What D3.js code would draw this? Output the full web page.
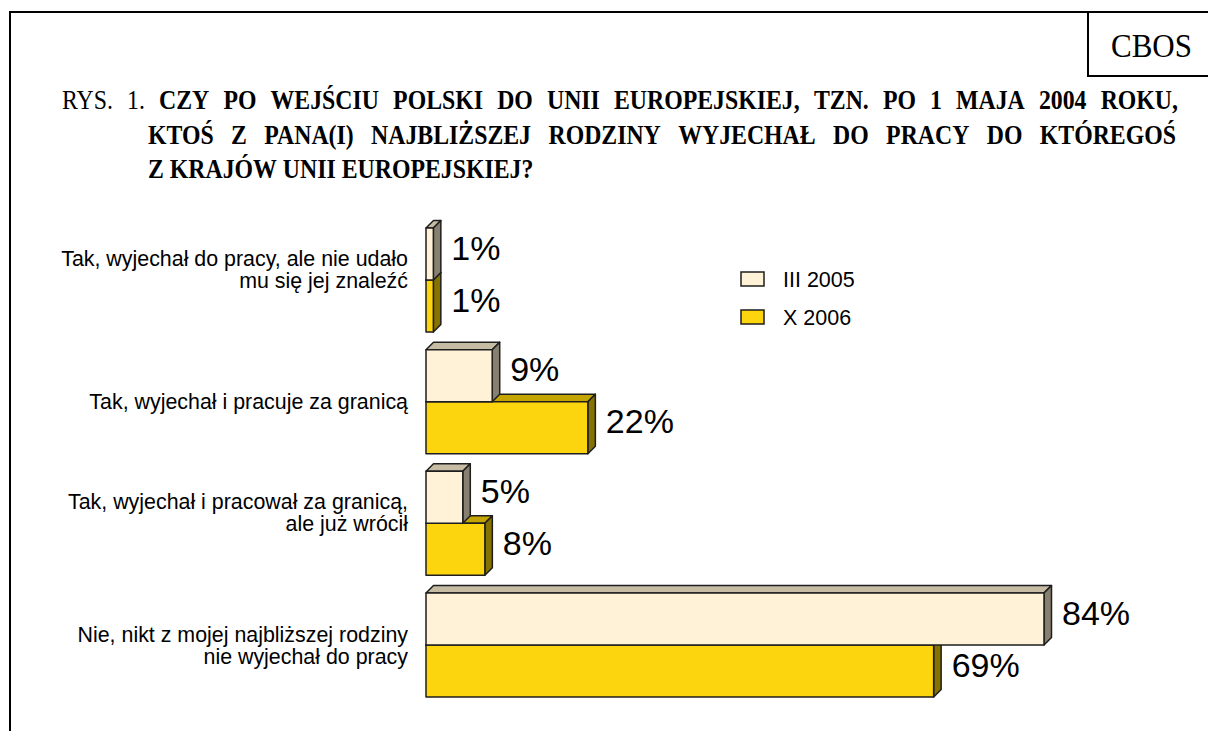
<!DOCTYPE html>
<html>
<head>
<meta charset="utf-8">
<script src="https://cdn.jsdelivr.net/npm/d3@7"></script>
<style>
  html, body { margin: 0; padding: 0; background: #fff; }
  svg { display: block; }
</style>
</head>
<body>
<svg id="chart" width="1208" height="731"></svg>
<script>
// ---- data ----
// "|" marks a line break in a category label (a trailing "|" is an empty last line)
const categories = [
  "Tak, wyjechał do pracy, ale nie udało|mu się jej znaleźć|",
  "Tak, wyjechał i pracuje za granicą",
  "Tak, wyjechał i pracował za granicą,|ale już wrócił|",
  "Nie, nikt z mojej najbliższej rodziny|nie wyjechał do pracy"
];
const series = ["III 2005", "X 2006"];
const values2005 = [1, 9, 5, 84];
const values2006 = [1, 22, 8, 69];
const titleLines = [
  "CZY PO WEJŚCIU POLSKI DO UNII EUROPEJSKIEJ, TZN. PO 1 MAJA 2004 ROKU,",
  "KTOŚ Z PANA(I) NAJBLIŻSZEJ RODZINY WYJECHAŁ DO PRACY DO KTÓREGOŚ",
  "Z KRAJÓW UNII EUROPEJSKIEJ?"
];
const titlePrefix = "RYS. 1.";
const brand = "CBOS";

// ---- styles ----
const colors = {
  "III 2005": { front: "#FFF2D6", top: "#C6BBA3", side: "#878071" },
  "X 2006":   { front: "#FDD50F", top: "#C4A400", side: "#857200" }
};
const stroke = "#1e1e1e";
const depth = 7.5;
const sans = "Liberation Sans, Arial, sans-serif";
const serif = "Liberation Serif, Times New Roman, serif";

const svg = d3.select("#chart");

// frame
svg.append("line").attr("x1", 10).attr("x2", 1208).attr("y1", 12).attr("y2", 12)
  .attr("stroke", "#000").attr("stroke-width", 2);
svg.append("line").attr("x1", 10).attr("x2", 10).attr("y1", 11).attr("y2", 731)
  .attr("stroke", "#000").attr("stroke-width", 2);
svg.append("line").attr("x1", 1088).attr("x2", 1088).attr("y1", 12).attr("y2", 76)
  .attr("stroke", "#000").attr("stroke-width", 2);
svg.append("line").attr("x1", 1087).attr("x2", 1208).attr("y1", 76).attr("y2", 76)
  .attr("stroke", "#000").attr("stroke-width", 2);

function measureText(txt, size, family, weight) {
  const t = svg.append("text").attr("font-family", family).attr("font-size", size)
    .attr("font-weight", weight || "normal").text(txt);
  const w = t.node().getComputedTextLength();
  t.remove();
  return w;
}

// brand box text (condensed glyphs)
const brandSize = 34;
const brandScale = 81 / measureText(brand, brandSize, serif);
svg.append("text")
  .attr("transform", `translate(1111,57) scale(${brandScale},1)`)
  .attr("font-family", serif).attr("font-size", brandSize)
  .text(brand);

// title: condensed glyphs, justified lines
const tsize = 28;
const squeeze = 385 / measureText(titleLines[2], tsize, serif, "bold");
const titleSpecs = [
  { x0: 62, x1: 1178, y: 109, justify: true, prefix: true },
  { x0: 148, x1: 1176, y: 143.5, justify: true, prefix: false },
  { x0: 148, x1: null, y: 178, justify: false, prefix: false }
];
titleLines.forEach((line, i) => {
  const spec = titleSpecs[i];
  let words = line.split(" ").map(w => ({ w, bold: true }));
  if (spec.prefix) words = titlePrefix.split(" ").map(w => ({ w, bold: false })).concat(words);
  const widths = words.map(d => measureText(d.w, tsize, serif, d.bold ? "bold" : "normal") * squeeze);
  const spaceW = measureText("\u00a0", tsize, serif, "bold") * squeeze;
  const total = d3.sum(widths);
  let gap = spaceW;
  if (spec.justify) gap = (spec.x1 - spec.x0 - total) / (words.length - 1);
  let xx = spec.x0;
  words.forEach((d, j) => {
    svg.append("text")
      .attr("transform", `translate(${xx},${spec.y}) scale(${squeeze},1)`)
      .attr("font-family", serif).attr("font-size", tsize)
      .attr("font-weight", d.bold ? "bold" : "normal")
      .text(d.w);
    xx += widths[j] + gap;
  });
});

// scales
const x = d3.scaleLinear().domain([0, 84]).range([426, 1044]);
const y = d3.scaleBand().domain(categories).range([228, 697]).paddingInner(0.145).paddingOuter(0);
const ySub = d3.scaleBand().domain(series).range([0, y.bandwidth()]);

const data = categories.map((c, i) => ({
  cat: c,
  bars: [
    { s: series[0], v: values2005[i] },
    { s: series[1], v: values2006[i] }
  ]
}));

const g = svg.append("g");
data.forEach(d => {
  // draw lower series first, then upper one over it
  d.bars.slice().reverse().forEach(b => {
    const x0 = x(0), x1 = x(b.v);
    const y0 = y(d.cat) + ySub(b.s), y1 = y0 + ySub.bandwidth();
    const c = colors[b.s];
    const bg = g.append("g").attr("stroke", stroke).attr("stroke-width", 1.5).attr("stroke-linejoin", "round");
    bg.append("path").attr("fill", c.top)
      .attr("d", `M${x0},${y0}L${x0 + depth},${y0 - depth}L${x1 + depth},${y0 - depth}L${x1},${y0}Z`);
    bg.append("path").attr("fill", c.side)
      .attr("d", `M${x1},${y0}L${x1 + depth},${y0 - depth}L${x1 + depth},${y1 - depth}L${x1},${y1}Z`);
    bg.append("rect").attr("x", x0).attr("y", y0).attr("width", x1 - x0).attr("height", y1 - y0)
      .attr("fill", c.front);
  });
  // value labels
  d.bars.forEach(b => {
    const y0 = y(d.cat) + ySub(b.s);
    g.append("text").attr("x", x(b.v) + depth + 10.5).attr("y", y0 + ySub.bandwidth() / 2 - depth / 2)
      .attr("dy", "0.28em")
      .attr("font-family", sans).attr("font-size", 34)
      .attr("fill", "#000").text(b.v + "%");
  });
  // category labels
  const lines = d.cat.split("|");
  const cy = y(d.cat) + y.bandwidth() / 2;
  const lh = 22;
  const t = g.append("text").attr("text-anchor", "end")
    .attr("font-family", sans).attr("font-size", 21.4).attr("fill", "#000");
  lines.forEach((l, k) => {
    if (!l) return;
    t.append("tspan").attr("x", 408)
      .attr("y", cy + (k - (lines.length - 1) / 2) * lh).attr("dy", "0.36em").text(l);
  });
});

// legend
const lg = svg.append("g");
series.forEach((s, i) => {
  const yy = 272 + i * 38;
  lg.append("rect").attr("x", 741).attr("y", yy).attr("width", 23).attr("height", 14)
    .attr("fill", colors[s].front).attr("stroke", stroke).attr("stroke-width", 1.5);
  lg.append("text").attr("x", 783).attr("y", yy + 7).attr("dy", "0.36em")
    .attr("font-family", sans).attr("font-size", 21.5)
    .text(s);
});
</script>
</body>
</html>
